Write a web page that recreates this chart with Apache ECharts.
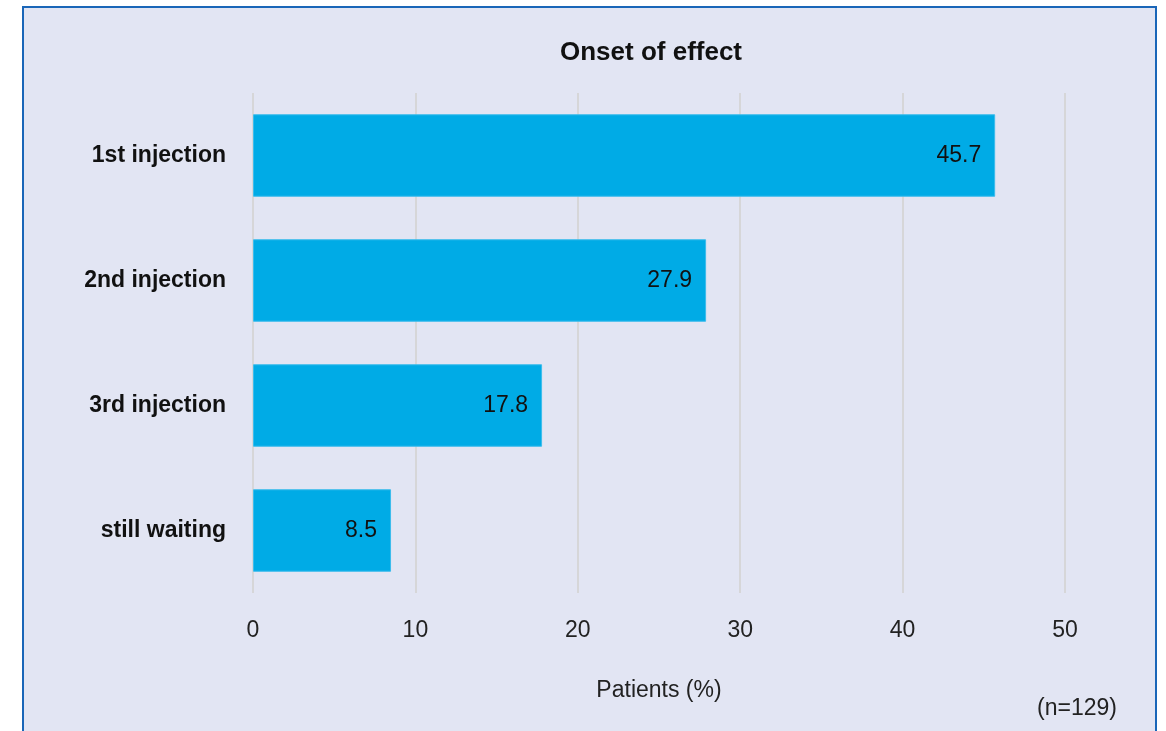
<!DOCTYPE html>
<html>
<head>
<meta charset="utf-8">
<script src="https://cdn.jsdelivr.net/npm/echarts@6/dist/echarts.min.js"></script>
<style>
  html, body { margin: 0; padding: 0; background: #fff; }
  #chart { width: 1166px; height: 731px; }
</style>
</head>
<body>
<div id="chart"></div>
<script>
// categories top to bottom
const categories = ["1st injection", "2nd injection", "3rd injection", "still waiting"];
const patients = [45.7, 27.9, 17.8, 8.5];
const xTicks = [0, 10, 20, 30, 40, 50];

const font = "'Liberation Sans Narrow', 'Arial Narrow', 'Liberation Sans', Arial, sans-serif";

const chart = echarts.init(document.getElementById("chart"));
chart.setOption({
  backgroundColor: "#ffffff",
  animation: false,
  graphic: [
    {
      type: "rect",
      z: -10,
      shape: { x: 23, y: 7, width: 1133, height: 740 },
      style: { fill: "#e2e5f3", stroke: "#1a66b8", lineWidth: 2 },
    },
    {
      type: "text",
      left: 1037,
      top: 697,
      style: { text: "(n=129)", fill: "#222", font: "23px " + font },
    },
  ],
  title: {
    text: "Onset of effect",
    left: 560,
    top: 40,
    padding: 0,
    textStyle: { fontFamily: font, fontWeight: "bold", fontSize: 26, color: "#111" },
  },
  grid: { left: 253, right: 101, top: 93, bottom: 138 },
  xAxis: {
    type: "value",
    min: xTicks[0],
    max: xTicks[xTicks.length - 1],
    interval: 10,
    name: "Patients (%)",
    nameLocation: "middle",
    nameGap: 86,
    nameTextStyle: { fontFamily: font, fontSize: 23, color: "#222" },
    axisLine: { show: false },
    axisTick: { show: false },
    axisLabel: { margin: 26, fontFamily: font, fontSize: 23, color: "#222" },
    splitLine: { show: true, lineStyle: { color: "#d6d6d8", width: 2 } },
  },
  yAxis: {
    type: "category",
    data: categories,
    inverse: true,
    axisLine: { show: false },
    axisTick: { show: false },
    axisLabel: { margin: 27, fontFamily: font, fontWeight: "bold", fontSize: 23, color: "#111" },
  },
  series: [
    {
      type: "bar",
      data: patients,
      barWidth: "66%",
      itemStyle: { color: "#00abe6", borderColor: "#3cbcec", borderWidth: 1 },
      label: {
        show: true,
        position: "insideRight",
        distance: 14,
        fontFamily: font,
        fontSize: 23,
        color: "#111",
        formatter: (p) => p.value.toFixed(1),
      },
    },
  ],
});
</script>
</body>
</html>
